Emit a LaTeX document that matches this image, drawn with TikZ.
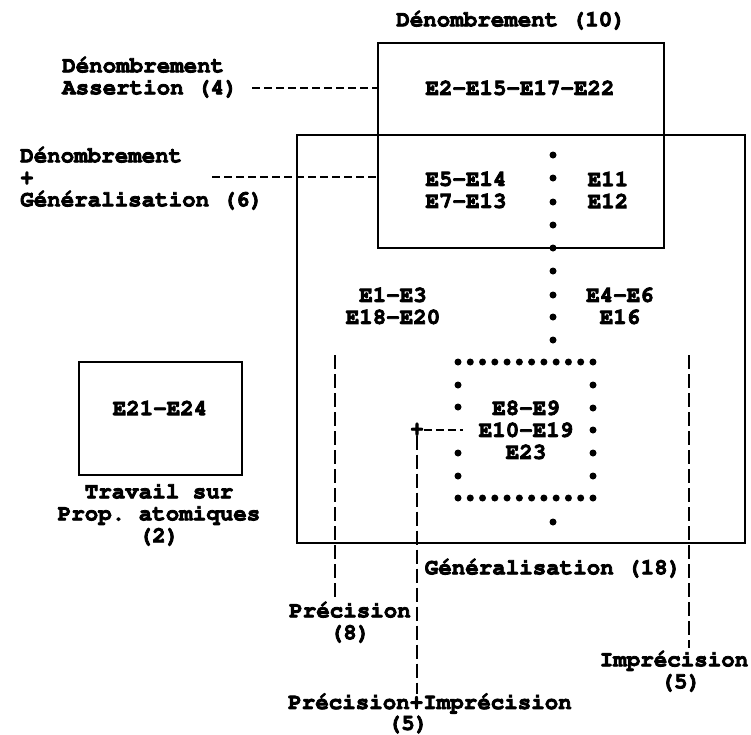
\documentclass[tikz,border=0pt]{standalone}
\usepackage[T1,TU]{fontenc}
\newcommand{\twfont}{\fontencoding{T1}\fontfamily{pcr}\fontseries{b}\fontsize{22.5}{22}\selectfont\frenchspacing\special{pdf:literal 2 Tr 0.8 w}}
\begin{document}
\begin{tikzpicture}[x=1pt,y=-1pt,
  txt/.style={font=\twfont, inner sep=0pt, align=center},
  txtl/.style={font=\twfont, inner sep=0pt, align=left, anchor=west},
  boxline/.style={draw, line width=1.7pt, inner sep=0pt, outer sep=0pt},
  hdash/.style={line width=1.4pt, dash pattern=on 8pt off 4pt},
  vdash/.style={line width=1.4pt, dash pattern=on 14pt off 5pt},
  dot/.style={circle, fill, inner sep=0pt, minimum size=7pt}
]
\useasboundingbox (0,0) rectangle (751,734);

% boxes
\node[boxline, minimum width=286pt, minimum height=205pt] (topbox) at (521,145.5) {};
\node[boxline, minimum width=448pt, minimum height=408pt] (bigbox) at (521,339) {};
\node[boxline, minimum width=163pt, minimum height=113pt] (atombox) at (160.5,418.5) {};

% titles and labels
\node[txt] (t10) at (511,20) {Dénombrement (10)};
\node[txt] (e2) at (520,88) {E2-E15-E17-E22};
\node[txtl] (lab4) at (62,77) {Dénombrement\\Assertion (4)};
\node[txtl] (lab6) at (20,178) {Dénombrement\\+\\Généralisation (6)};
\node[txt] (e5) at (466,190) {E5-E14\\E7-E13};
\node[txt] (e11) at (608,190) {E11\\E12};
\node[txt] (e1) at (393,306) {E1-E3\\E18-E20};
\node[txt] (e4) at (620,306) {E4-E6\\E16};
\node[txt] (e8) at (526,430) {E8-E9\\E10-E19\\E23};
\node[txt] (e21) at (160,408) {E21-E24};
\node[txt] (trav) at (159,514) {Travail sur\\Prop. atomiques\\(2)};
\node[txt] (gen) at (553,568) {Généralisation (18)};
\node[txt] (prec) at (350,622) {Précision\\(8)};
\node[txt] (impr) at (674,671) {Imprécision\\\hphantom{(}(5)};
\node[txt] (pi) at (430,703) {Précision+Imprécision};
\node[txt] (pi5) at (408,724) {(5)};
\node[txt] (plus) at (417,430) {+};

% dashed connectors to the top box
\coordinate (a4) at (252,88);
\coordinate (a6) at (212,177);
\draw[hdash] (a4) -- (a4 -| topbox.west);
\draw[hdash] (a6) -- (a6 -| topbox.west);

% dashed vertical lines
\coordinate (p1) at (335,355);
\coordinate (p2) at (335,600);
\coordinate (r1) at (689,355);
\coordinate (r2) at (689,648);
\draw[vdash] (p1) -- (p2);
\draw[vdash] (r1) -- (r2);
\coordinate (dbl) at (463,430);
\draw[hdash] (plus.east) -- (dbl);
\draw[vdash] (plus.south) -- (pi.north -| plus.south);

% dotted column
\foreach \y in {155,178,202,225,248,271,295,317,340,522}
  \node[dot] at (553,\y) {};
% dotted box
\foreach \k in {0,...,11} {
  \node[dot] at ({458+12.27*\k},362) {};
  \node[dot] at ({458+12.27*\k},498) {};
}
\foreach \y in {385,407,453,476}
  \node[dot] at (458,\y) {};
\foreach \y in {385,408,430,453,476}
  \node[dot] at (593,\y) {};
\end{tikzpicture}
\end{document}
